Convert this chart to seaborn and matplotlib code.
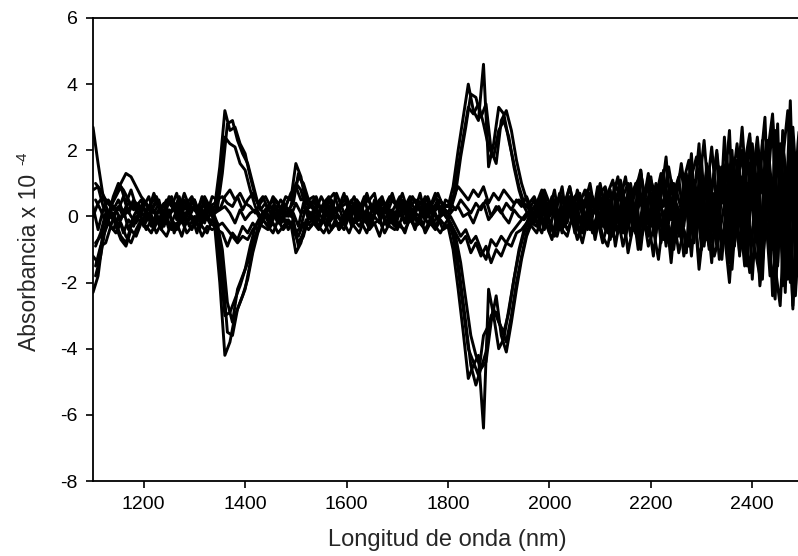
import numpy as np
import pandas as pd
import matplotlib
matplotlib.use("Agg")
import matplotlib.pyplot as plt
import seaborn as sns

# wavelength grids (nm), 10 nm steps; the second grid is offset by 5 nm
grid_a = list(range(1100, 2501, 10))
grid_b = list(range(1105, 2506, 10))

# absorbance x 1e-4
p1 = [2.7, 1.6, 0.6, 0.4,
      0.2, 0.5, 0.1, 0.4, 0.3, 0.1,
      0.3, 0.6, 0.1, 0.4, -0.1, 0.5, 0.2, 0.6, 0.0, 0.3, 0.5, 0.1, 0.4, 0.2,
      0.3, 1.5, 3.2, 2.6, 2.7, 2.2, 1.9, 1.2, 0.6, 0.2,
      0.4, 0.1, 0.5, 0.2, 0.6,
      0.5, 1.6, 1.2, 0.4,
      0.3, 0.6, 0.2, 0.5, 0.1, 0.7, 0.3, 0.4, 0.0, 0.5, 0.2, 0.6, 0.3, 0.1, 0.5, 0.3, 0.7, 0.2, 0.4, 0.0, 0.6, 0.3, 0.5, 0.1, 0.4, 0.7, 0.3,
      0.3, 0.9, 2.0, 3.0, 4.0, 3.2, 2.9, 4.6, 1.5, 2.2, 3.3, 3.1, 2.3, 1.6, 0.9, 0.4, 0.2,
      0.5, -0.1, 0.6, 0.2, 0.8, -0.2, 0.4, 0.9, 0.1, 0.5, -0.3, 0.7, 0.3, 1.0,
      0.2, 0.8, -0.4, 1.1, 0.4, 0.9, -0.2, 1.3, 0.5, 0.0, 1.0, 0.6, 1.8, -0.1, 0.9,
      1.4, 0.2, 1.9, -0.6, 1.2, 0.7, 2.1, 0.3, 1.5, -0.8, 1.8, 0.9, 2.7, 0.4, 1.6,
      -0.7, 2.3, 0.8, 2.9, -1.5, 1.7, 3.2, -0.4, 2.2, 3.9]

p2 = [1.0, 0.8, 0.5, 0.3,
      0.7, 1.0, 1.3, 1.2, 0.9, 0.6,
      0.4, 0.2, 0.5, 0.0, 0.3, 0.6, -0.1, 0.4, 0.2, 0.5, 0.1, 0.6, 0.3, 0.0,
      0.2, 1.3, 2.8, 2.9, 2.3, 1.9, 1.6, 1.0, 0.4, 0.1,
      0.3, 0.5, 0.0, 0.4, 0.2,
      0.4, 1.3, 0.9, 0.3,
      0.5, 0.1, 0.4, 0.6, 0.2, 0.3, 0.7, 0.1, 0.4, 0.2, 0.6, -0.1, 0.5, 0.3, 0.4, 0.0, 0.3, 0.6, 0.1, 0.5, 0.2, 0.7, 0.0, 0.4, 0.2, 0.5, 0.1,
      0.2, 0.7, 1.8, 2.7, 3.7, 3.6, 3.0, 3.4, 2.0, 1.6, 2.9, 3.2, 2.6, 1.7, 1.0, 0.5, 0.1,
      0.2, 0.7, 0.0, 0.5, -0.4, 0.6, 0.2, -0.1, 0.8, 0.3, 0.6, 0.0, 0.9, 0.2,
      -0.5, 0.6, 1.2, 0.1, -0.3, 0.8, 1.1, 0.2, -0.6, 0.9, 0.4, 1.4, -0.2, 0.7, 1.2,
      -0.3, 1.0, 0.5, 2.2, -0.9, 0.6, 1.3, -0.4, 2.4, 0.2, 1.1, -1.2, 1.6, 2.5, -0.2,
      1.9, 0.4, -1.8, 2.6, 1.0, -0.9, 2.4, 1.3, -2.6, 1.8]

p3 = [0.8, 0.9, 0.3, 0.0,
      0.6, 1.0, 0.8, 0.5, 0.2, 0.4,
      0.0, 0.3, -0.2, 0.2, 0.4, 0.0, 0.3, -0.1, 0.5, 0.1, -0.2, 0.3, 0.0, 0.4,
      0.1, 1.0, 2.4, 2.2, 2.1, 1.6, 1.4, 0.8, 0.3, 0.0,
      0.2, -0.1, 0.3, 0.1, 0.0,
      0.3, 1.0, 0.8, 0.2,
      0.1, -0.2, 0.3, 0.0, 0.4, 0.1, -0.1, 0.2, 0.5, 0.0, 0.3, -0.2, 0.2, 0.4, 0.0, 0.3, -0.1, 0.2, 0.5, 0.1, -0.2, 0.3, 0.0, 0.4, 0.1, -0.1, 0.3,
      0.1, 0.5, 1.5, 2.4, 3.3, 3.1, 3.4, 2.8, 2.1, 1.8, 2.6, 2.9, 2.4, 1.5, 0.8, 0.3, 0.0,
      -0.2, 0.4, 0.1, -0.5, 0.3, 0.6, -0.3, 0.2, 0.5, -0.6, 0.4, 0.1, -0.4, 0.6,
      0.3, -0.7, 0.5, 0.9, -0.3, 0.2, 1.0, -0.8, 0.4, 0.7, -0.5, 1.1, 0.3, -0.9, 0.8,
      0.2, -1.1, 1.4, 0.0, 1.7, -0.7, 0.8, 1.9, -1.3, 0.6, 2.0, -0.5, 1.2, -1.5, 2.2,
      0.3, -1.9, 1.5, -0.6, 2.8, -2.1, 0.9, -2.7, 1.6, -1.0]

n1 = [-2.3, -1.8, -0.6, -0.2,
      -0.4, 0.0, -0.5, -0.1, -0.3, 0.1,
      -0.2, 0.1, -0.4, 0.0, -0.3, 0.2, -0.5, -0.1, 0.1, -0.3, 0.0, -0.4, 0.1, -0.2,
      -0.3, -2.0, -4.2, -3.8, -3.0, -2.6, -2.2, -1.4, -0.6, -0.2,
      0.0, -0.3, 0.1, -0.2, -0.1,
      -0.2, -1.1, -0.8, -0.1,
      -0.3, 0.0, -0.2, 0.2, -0.4, 0.0, -0.1, 0.2, -0.3, 0.1, -0.2, -0.5, 0.0, 0.2, -0.3, -0.1, 0.1, -0.4, 0.0, -0.2, 0.2, -0.1, -0.3, 0.1, -0.2, 0.0, -0.4,
      -0.3, -1.0, -2.2, -3.5, -4.9, -4.5, -4.2, -6.4, -2.2, -3.0, -4.0, -3.7, -2.8, -1.9, -1.1, -0.5, -0.1,
      0.1, -0.4, 0.3, -0.2, -0.6, 0.2, -0.3, 0.4, -0.5, 0.0, -0.2, 0.3, -0.7, 0.1,
      -0.4, 0.3, -0.9, 0.0, 0.5, -0.6, 0.2, -1.0, 0.4, -0.3, 0.6, -0.8, 0.1, -1.4, 0.3,
      -0.6, 0.4, -1.2, 0.7, -0.5, 0.2, -1.4, 0.9, -0.8, 0.3, -1.6, 0.5, -0.7, 1.0, -1.9,
      0.6, -1.4, 1.1, -2.4, 0.2, -1.2, 1.4, -2.8, 0.5, -2.2]

n2 = [-1.8, -1.2, -0.3, 0.1,
      -0.2, -0.6, -0.8, -0.3, 0.0, -0.2,
      0.1, -0.2, 0.0, -0.4, 0.2, -0.1, -0.3, 0.1, -0.2, 0.0, -0.5, 0.1, -0.1, 0.2,
      -0.2, -1.6, -3.5, -3.6, -2.8, -2.4, -1.9, -1.1, -0.5, -0.1,
      -0.3, 0.1, -0.2, 0.0, -0.4,
      -0.1, -0.9, -0.6, 0.0,
      0.1, -0.3, 0.0, -0.2, 0.1, -0.4, 0.0, 0.2, -0.2, -0.1, 0.1, -0.3, 0.0, -0.2, 0.2, -0.1, -0.3, 0.1, -0.2, 0.0, -0.4, 0.1, -0.1, 0.2, -0.3, 0.0, 0.1,
      -0.2, -0.8, -2.0, -3.2, -4.5, -5.1, -4.6, -4.4, -3.2, -2.4, -3.6, -4.1, -3.2, -2.2, -1.3, -0.6, -0.2,
      -0.3, 0.2, -0.1, 0.5, -0.4, 0.1, 0.4, -0.2, 0.3, -0.5, 0.2, 0.6, -0.1, 0.3,
      0.6, -0.2, 0.4, -0.5, 0.8, 0.1, -0.6, 0.5, 0.9, -0.2, 0.3, -0.7, 0.8, 0.2, -0.5,
      0.9, 0.3, -0.8, 1.1, 0.4, -1.0, 0.7, 0.2, 1.5, -0.9, 0.4, 1.2, -1.1, 0.5, 1.7,
      -1.2, 1.0, 0.1, -1.5, 2.0, 0.5, -2.0, 1.7, 0.0, 2.4]

n3 = [-1.2, -1.4, -0.5, -0.1,
      0.1, -0.3, 0.2, -0.4, 0.0, 0.3,
      -0.3, 0.0, 0.2, -0.2, 0.1, -0.4, 0.0, 0.3, -0.1, 0.2, -0.3, 0.0, 0.2, -0.1,
      -0.1, -1.3, -3.0, -2.9, -2.5, -2.1, -1.6, -0.9, -0.3, 0.0,
      0.2, -0.2, 0.3, -0.1, 0.1,
      0.2, -0.5, -0.3, 0.3,
      -0.1, 0.2, 0.0, -0.3, 0.3, 0.1, -0.2, 0.0, 0.3, -0.1, 0.2, 0.0, -0.2, 0.3, 0.1, -0.3, 0.2, 0.0, 0.3, -0.1, 0.1, -0.2, 0.2, 0.0, 0.3, -0.1, 0.2,
      -0.1, -0.6, -1.6, -2.8, -4.0, -4.4, -4.8, -3.6, -3.3, -2.8, -3.2, -3.5, -2.9, -1.9, -1.0, -0.4, 0.0,
      0.3, -0.1, 0.6, 0.0, 0.2, -0.4, 0.5, 0.1, -0.2, 0.7, 0.0, -0.4, 0.5, -0.1,
      0.8, -0.3, 0.2, 0.7, -0.6, 1.0, 0.0, 0.5, -0.4, 1.2, -0.1, 0.4, -0.9, 1.0, 0.2,
      -0.7, 1.3, -0.2, 0.6, -1.0, 1.6, 0.1, -0.6, 1.0, 1.8, -0.4, 0.8, 2.0, -0.8, 0.7,
      2.1, -0.8, 2.3, 0.6, -1.4, 2.6, -0.5, 1.2, -1.8, 0.8]

n4 = [-0.9, -0.5, 0.1, -0.3,
      0.2, -0.1, 0.3, 0.0, -0.2, 0.2,
      0.2, -0.3, 0.1, 0.3, -0.1, 0.2, 0.4, -0.2, 0.0, 0.3, 0.1, -0.2, 0.3, 0.0,
      -0.2, -1.0, -2.6, -3.2, -2.2, -1.8, -1.4, -0.8, -0.4, 0.1,
      -0.1, 0.2, -0.2, 0.3, 0.0,
      0.1, -0.3, 0.4, -0.1,
      0.2, 0.0, 0.4, -0.1, 0.2, 0.3, -0.2, 0.1, 0.4, 0.0, -0.1, 0.3, 0.1, 0.5, -0.1, 0.2, 0.0, 0.4, -0.2, 0.3, 0.1, 0.0, 0.4, -0.1, 0.2, 0.3, 0.0,
      -0.2, -0.6, -1.4, -2.5, -3.6, -4.2, -4.6, -4.1, -3.0, -2.9, -3.4, -3.8, -3.0, -2.0, -1.2, -0.5, -0.1,
      0.0, 0.5, -0.3, 0.4, 0.1, -0.5, 0.6, -0.1, 0.3, 0.2, -0.4, 0.5, 0.1, -0.3,
      0.5, 0.1, -0.5, 0.6, 0.3, -0.4, 0.7, 0.2, 1.1, -0.5, 0.6, 0.0, 0.5, 1.0, -0.6,
      0.8, -0.3, 1.1, 0.4, -0.7, 1.5, -0.2, 0.5, 0.9, -1.2, 1.3, 0.2, -0.9, 1.6, 0.4,
      -1.6, 1.8, 0.3, -1.1, 1.4, -2.3, 2.0, 0.6, -1.6, 2.9]

m1 = [0.3, -0.4, 0.2, 0.5,
      0.3, 0.2, 0.6, 0.1, 0.4, 0.0,
      0.5, 0.2, 0.7, 0.3, 0.1, 0.6, 0.4, 0.2, 0.7, 0.3, 0.5, 0.0, 0.6, 0.3,
      0.4, 0.2, 0.6, 0.8, 0.5, 0.7, 0.4, 0.3, 0.1, 0.4,
      0.6, 0.3, 0.2, 0.5, 0.3,
      0.7, 0.9, 0.5, 0.6,
      0.4, 0.2, 0.6, 0.3, 0.5, 0.1, 0.4, 0.6, 0.2, 0.5, 0.3, 0.7, 0.2, 0.4, 0.6, 0.1, 0.5, 0.3, 0.7, 0.2, 0.4, 0.5, 0.3, 0.6, 0.2, 0.5, 0.4,
      0.3, 0.6, 0.9, 0.7, 0.5, 0.8, 0.6, 0.9, 0.4, 0.7, 0.5, 0.8, 0.6, 0.4, 0.5, 0.3, 0.4,
      0.6, 0.2, 0.8, 0.4, 0.0, 0.7, 0.3, 0.9, 0.2, 0.6, 0.4, 1.0, 0.1, 0.7,
      0.9, 0.3, 1.0, 0.5, 1.2, 0.2, 0.8, 1.4, 0.0, 1.1, 0.6, 1.3, 0.3, 1.0, 0.5,
      1.6, 0.5, 1.2, 1.8, 0.1, 1.4, 0.7, 2.0, 0.4, 1.6, 0.9, 2.2, 0.6, 1.8, 1.1,
      2.4, 0.7, 1.9, 3.1, 0.2, 2.1, 1.0, 2.7, 0.4, 3.4]

m2 = [-0.8, -0.6, 0.0, 0.2,
      -0.3, -0.7, -0.9, -0.4, -0.6, -0.2,
      -0.3, -0.5, -0.1, -0.4, -0.6, -0.2, -0.4, -0.1, -0.5, -0.3, -0.2, -0.6, -0.3, -0.4,
      -0.3, -0.2, -0.4, -0.6, -0.8, -0.6, -0.7, -0.4, -0.2, -0.3,
      -0.4, -0.2, -0.5, -0.3, -0.1,
      -0.3, -0.6, -0.2, -0.4,
      -0.2, -0.4, -0.1, -0.5, -0.3, -0.2, -0.4, 0.0, -0.3, -0.5, -0.1, -0.3, -0.2, -0.6, -0.1, -0.3, -0.4, -0.2, -0.5, 0.0, -0.3, -0.2, -0.4, -0.1, -0.3, -0.5, -0.2,
      0.0, -0.3, -0.6, -0.4, -0.8, -0.6, -1.0, -1.3, -0.7, -0.9, -0.6, -0.8, -0.5, -0.3, -0.1, 0.1, 0.2,
      -0.2, -0.5, 0.1, -0.3, -0.6, 0.0, -0.4, -0.1, -0.7, -0.2, 0.2, -0.5, -0.1, -0.8,
      -0.2, -0.6, 0.0, -0.9, -0.3, 0.2, -1.0, -0.4, -0.1, -1.2, 0.1, -0.5, -0.8, 0.0, -1.1,
      -0.4, -0.9, 0.3, -1.3, -0.5, 0.0, -1.2, -0.6, 0.4, -1.4, -0.8, 0.1, -1.5, -0.3, -1.0,
      -1.8, 0.2, -1.3, -2.5, 0.5, -1.7, -0.9, -2.4, 0.3, -1.9]

q1 = [0.5, 0.2, -0.2, 0.3,
      0.6, 0.9, 0.4, 0.8, 0.3, 0.5,
      0.1, 0.4, 0.6, 0.2, 0.5, 0.3, 0.7, 0.1, 0.4, 0.6, 0.2, 0.5, 0.1, 0.6,
      0.5, 0.6, 0.4, 0.3, 0.6, 0.2, 0.5, 0.7, 0.4, 0.6,
      0.2, 0.6, 0.4, 0.1, 0.5,
      0.6, 1.2, 1.0, 0.5,
      0.6, 0.3, 0.1, 0.5, 0.7, 0.2, 0.5, 0.3, 0.6, 0.1, 0.4, 0.5, 0.7, 0.0, 0.3, 0.6, 0.4, 0.1, 0.3, 0.6, 0.5, 0.2, 0.6, 0.3, 0.7, 0.0, 0.5,
      0.4, 0.2, 0.5, 0.3, 0.1, 0.4, 0.2, 0.5, 0.0, 0.3, 0.1, 0.4, 0.2, 0.5, 0.3, 0.6, 0.2,
      0.4, 0.8, 0.1, 0.6, 0.3, 0.9, -0.2, 0.5, 0.7, 0.0, 0.8, 0.3, 0.6, -0.1,
      0.7, 1.1, 0.0, 0.6, 1.0, -0.3, 0.9, 0.4, 1.3, -0.2, 0.8, 0.3, 1.5, 0.6, -0.4,
      1.1, 1.7, -0.3, 0.9, 2.3, 0.4, -0.6, 1.5, 0.8, 2.6, -0.9, 1.2, 0.6, 2.4, -0.7,
      1.4, 3.0, -1.1, 0.8, 2.2, -0.3, 3.5, -1.7, 1.1, 2.6]

q2 = [-1.5, -0.9, -0.8, -0.3,
      -0.5, -0.2, -0.6, -0.8, -0.4, -0.1,
      -0.4, -0.1, -0.5, -0.2, 0.0, -0.4, -0.2, -0.6, -0.1, -0.4, 0.0, -0.3, -0.5, -0.1,
      -0.4, -0.5, -0.9, -0.5, -0.7, -0.3, -0.5, -0.2, -0.4, -0.1,
      -0.3, -0.5, -0.1, -0.4, -0.2,
      -0.4, -0.8, -0.5, -0.2,
      -0.1, -0.3, -0.5, -0.2, 0.0, -0.4, -0.2, -0.5, -0.1, -0.3, 0.0, -0.4, -0.2, -0.1, -0.5, -0.2, 0.0, -0.3, -0.4, -0.1, -0.3, 0.0, -0.5, -0.2, -0.4, -0.1, -0.3,
      -0.2, -0.5, -0.8, -0.6, -1.1, -0.8, -1.2, -0.9, -1.4, -1.0, -1.2, -0.8, -0.9, -0.5, -0.4, -0.2, -0.3,
      -0.5, 0.0, -0.3, -0.7, 0.1, -0.4, -0.6, 0.0, -0.3, -0.8, -0.1, -0.4, 0.1, -0.6,
      -0.9, -0.1, -0.5, 0.2, -1.1, -0.3, -0.7, 0.1, -0.9, -0.4, -1.3, 0.0, -0.6, -1.0, 0.2,
      -1.2, -0.4, 0.4, -1.6, -0.2, -0.9, 0.5, -1.3, -0.5, -2.0, 0.3, -1.1, -0.4, -1.7, 0.6,
      -2.1, -0.6, 1.0, -1.5, -2.7, 0.4, -1.0, -2.2, 1.2, -1.3]

q3 = [0.0, 0.4, 0.6, 0.1,
      -0.1, 0.3, 0.0, 0.2, 0.5, 0.3,
      0.2, 0.0, 0.3, 0.5, -0.2, 0.1, 0.2, 0.4, -0.3, 0.0, 0.3, 0.2, -0.2, 0.3,
      0.1, 0.2, 0.3, 0.1, -0.2, 0.2, -0.1, 0.1, 0.2, -0.1,
      0.1, 0.3, 0.0, -0.2, 0.3,
      0.0, 0.4, 0.1, 0.2,
      0.3, 0.1, -0.2, 0.4, 0.0, 0.2, 0.3, -0.1, 0.1, 0.4, 0.0, 0.2, -0.1, 0.3, 0.2, 0.4, -0.2, 0.1, 0.2, 0.4, -0.1, 0.3, 0.1, -0.2, 0.0, 0.4, 0.1,
      0.0, 0.2, 0.3, 0.0, 0.1, -0.2, 0.2, 0.4, -0.1, 0.1, 0.3, 0.0, -0.2, 0.2, 0.0, -0.1, 0.1,
      -0.1, 0.3, -0.4, 0.2, 0.5, -0.2, 0.1, 0.6, -0.3, 0.4, 0.8, -0.2, 0.3, 0.5,
      -0.1, 0.4, 0.7, -0.4, 0.3, 0.6, -0.5, 1.4, 0.1, -0.2, 0.8, 0.3, -0.3, 1.1, 0.4,
      0.0, 0.8, 1.2, -0.4, 0.5, 1.3, 0.0, -0.9, 1.1, 0.6, -1.0, 1.7, 0.2, -0.4, 1.4,
      0.9, -0.3, 2.1, -1.0, 0.5, 1.2, -1.9, 2.4, -0.5, 1.0]

series_a = {"p1": p1, "p3": p3, "n1": n1, "n3": n3, "m1": m1, "q3": q3}
series_b = {"p2": p2, "n2": n2, "n4": n4, "m2": m2, "q1": q1, "q2": q2}

x_ticks = [1200, 1400, 1600, 1800, 2000, 2200, 2400]
y_ticks = [-8, -6, -4, -2, 0, 2, 4, 6]

frames = []
for grid, group in ((grid_a, series_a), (grid_b, series_b)):
    for name, vals in group.items():
        assert len(vals) == len(grid), (name, len(vals))
        frames.append(pd.DataFrame({"nm": grid, "abs": vals, "serie": name}))
df = pd.concat(frames, ignore_index=True)

sns.set_style("ticks")
plt.rcParams["font.family"] = ["Liberation Sans", "DejaVu Sans"]

W, H = 798, 556
fig = plt.figure(figsize=(W / 100, H / 100), dpi=100)
ax = fig.add_axes([93 / W, 75 / H, (803 - 93) / W, 463 / H])

sns.lineplot(data=df, x="nm", y="abs", units="serie", estimator=None,
             color="black", linewidth=2.1, ax=ax, legend=False)

ax.set_xlim(1100, 2500)
ax.set_ylim(-8, 6)
ax.set_xticks(x_ticks)
ax.set_yticks(y_ticks)
ax.set_xticklabels([str(v) for v in x_ticks])
ax.set_yticklabels([str(v) for v in y_ticks])
ax.tick_params(axis="both", direction="out", length=5, width=1.2,
               labelsize=14, colors="black", pad=6)
for s in ["left", "bottom", "top", "right"]:
    ax.spines[s].set_linewidth(1.3)
    ax.spines[s].set_color("black")
ax.set_xlabel("")
ax.set_ylabel("")

fig.text(447 / W, 1 - 540 / H, "Longitud de onda (nm)", ha="center",
         va="center", fontsize=17)
fig.text(30 / W, 1 - 262 / H, "Absorbancia x 10", ha="center", va="center",
         rotation=90, fontsize=16.5)
fig.text(22 / W, 1 - 158 / H, "-4", ha="center", va="center",
         rotation=90, fontsize=11)

fig.savefig("out.png", dpi=100)
